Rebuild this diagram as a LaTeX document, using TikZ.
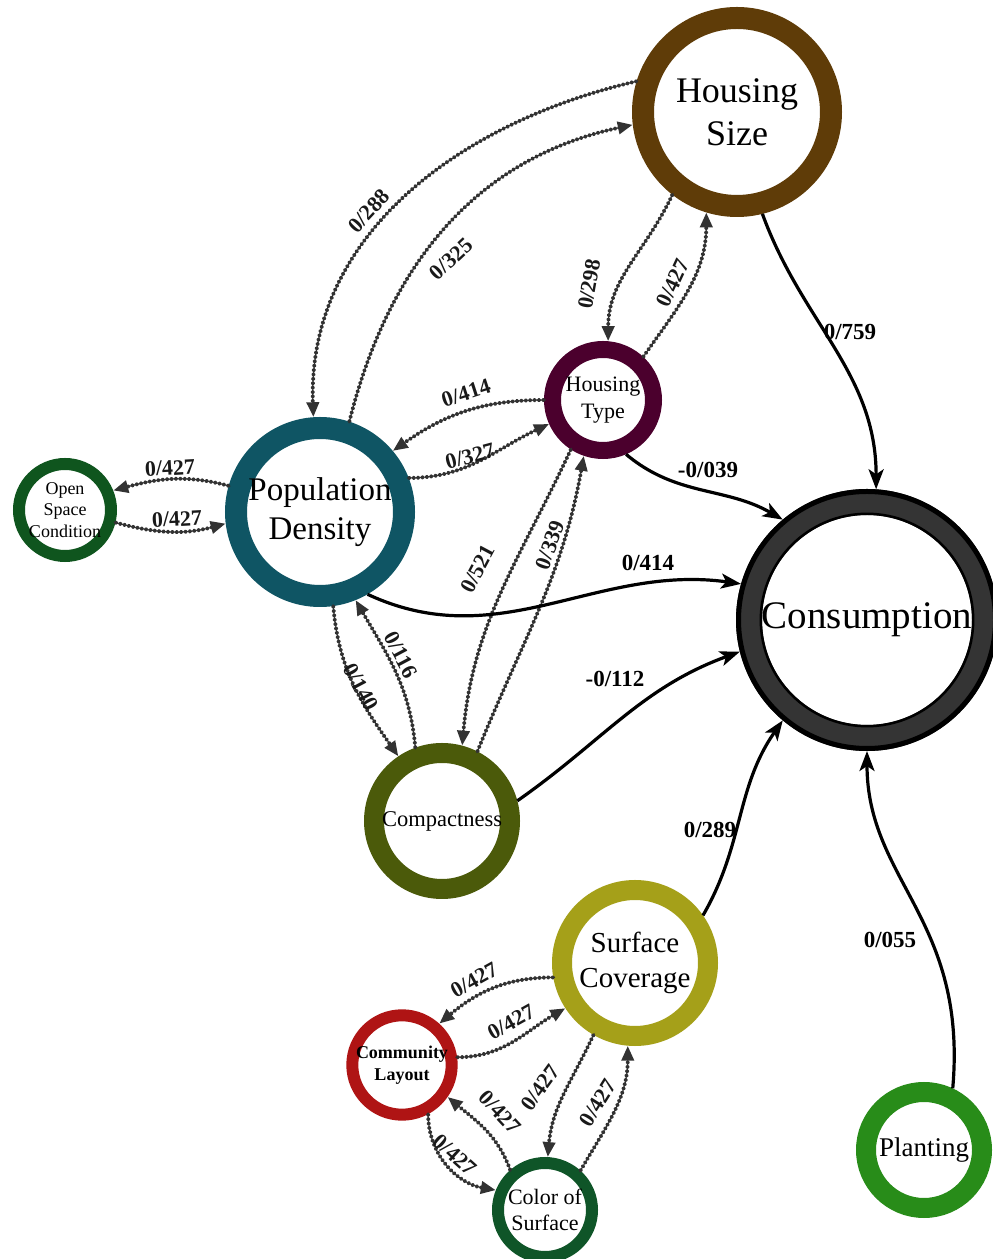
\documentclass[tikz,border=0pt]{standalone}
\usepackage{fontspec}
\setmainfont{Liberation Serif}
\usetikzlibrary{arrows.meta}
\definecolor{cHS}{RGB}{95,60,8}
\definecolor{cHT}{RGB}{75,0,45}
\definecolor{cPD}{RGB}{15,85,100}
\definecolor{cOS}{RGB}{15,85,30}
\definecolor{cCons}{RGB}{52,52,52}
\definecolor{cComp}{RGB}{75,90,10}
\definecolor{cSC}{RGB}{165,160,25}
\definecolor{cCL}{RGB}{175,20,20}
\definecolor{cCS}{RGB}{15,85,40}
\definecolor{cPL}{RGB}{40,140,25}
\definecolor{edgegrey}{RGB}{50,50,50}
\newcommand{\fs}[1]{\fontsize{#1}{1.2\dimexpr #1pt\relax}\selectfont}
\begin{document}
\begin{tikzpicture}[x=1pt,y=1pt,
  ring/.style={circle, draw, fill=white, inner sep=0pt, align=center, text=black},
  dotarrow/.style={draw=edgegrey, line width=3.8pt, line cap=round, dash pattern=on 1.2pt off 3.2pt, -{Triangle[length=15pt,width=12pt]}},
  solidarrow/.style={draw=black, line width=3.2pt, -{Stealth[length=20pt,width=15pt,inset=5pt]}},
  dlbl/.style={font=\fs{22}\bfseries, text=black!90, inner sep=1pt},
  slbl/.style={font=\fs{23}\bfseries, inner sep=1pt},
]
\useasboundingbox (0,0) rectangle (993,1259);
\fill[white] (0,0) rectangle (993,1259);

% nodes
\node[ring, draw=cHS, line width=22pt, minimum size=188pt, font=\fs{36}] (hs) at (737,1147) {Housing\\Size};
\node[ring, draw=cHT, line width=17pt, minimum size=101pt, font=\fs{22}] (ht) at (603,859) {Housing\\Type};
\node[ring, draw=cPD, line width=22pt, minimum size=168pt, font=\fs{33}] (pd) at (320,747) {Population\\Density};
\node[ring, draw=cOS, line width=12pt, minimum size=92pt, font=\fs{18}] (os) at (65,749) {Open\\Space\\Condition};
\node[ring, draw=cCons, line width=26pt, minimum size=236pt, font=\fs{39}] (cons) at (867,639) {Consumption};
\draw[black, line width=5pt] (cons.center) circle (128.5);
\draw[black, line width=2.5pt] (cons.center) circle (106.2);
\node[ring, draw=cComp, line width=20pt, minimum size=136pt, font=\fs{22.5}] (comp) at (442,438) {Compactness};
\node[ring, draw=cSC, line width=20pt, minimum size=146pt, font=\fs{29}] (sc) at (635,296) {Surface\\Coverage};
\node[ring, draw=cCL, line width=12pt, minimum size=92pt, font=\fs{18}\bfseries] (cl) at (402,194) {Community\\Layout};
\node[ring, draw=cCS, line width=12pt, minimum size=94pt, font=\fs{22}] (cs) at (545,49) {Color of\\Surface};
\node[ring, draw=cPL, line width=20pt, minimum size=116pt, font=\fs{27}] (pl) at (924,109) {Planting};

% dotted connectors
\draw[dotarrow] (hs.163) to[out=193,in=92] (pd.94);
\draw[dotarrow] (pd.72) to[out=76,in=192] (hs.187);
\draw[dotarrow] (hs.232) to[out=245,in=90] (ht.85);
\draw[dotarrow] (ht.47) to[out=55,in=270] (hs.253);
\draw[dotarrow] (ht.180) to[out=180,in=35] (pd.40);
\draw[dotarrow] (pd.21) to[out=0,in=205] (ht.204);
\draw[dotarrow] (pd.164) to[out=165,in=15] (os.22);
\draw[dotarrow] (os.346) to[out=-15,in=195] (pd.187);
\draw[dotarrow] (pd.278) to[out=275,in=125] (comp.124);
\draw[dotarrow] (comp.110) to[out=95,in=300] (pd.292);
\draw[dotarrow] (ht.237) to[out=245,in=85] (comp.75);
\draw[dotarrow] (comp.63) to[out=68,in=260] (ht.251);
\draw[dotarrow] (sc.190) to[out=180,in=40] (cl.48);
\draw[dotarrow] (cl.8) to[out=0,in=210] (sc.213);
\draw[dotarrow] (sc.240) to[out=245,in=85] (cs.87);
\draw[dotarrow] (cs.48) to[out=60,in=270] (sc.265);
\draw[dotarrow] (cs.131) to[out=110,in=320] (cl.325);
\draw[dotarrow] (cl.298) to[out=270,in=170] (cs.158);

% solid connectors
\draw[solidarrow] (hs.284) to[out=290,in=90] (cons.86);
\draw[solidarrow] (ht.293) to[out=320,in=150] (cons.130);
\draw[solidarrow] (pd.300) to[out=-25,in=172] (cons.164);
\draw[solidarrow] (comp.15) to[out=35,in=200] (cons.194);
\draw[solidarrow] (sc.35) to[out=60,in=235] (cons.230);
\draw[solidarrow] (pl.65) to[out=85,in=270,out distance=170pt,in distance=130pt] (cons.270);

% dotted labels
\node[dlbl, rotate=47] (l288) at (369,1048) {0/288};
\node[dlbl, rotate=43] (l325) at (451,1000) {0/325};
\node[dlbl, rotate=80] (l298) at (589,975) {0/298};
\node[dlbl, rotate=65] (l427a) at (673,976) {0/427};
\node[dlbl, rotate=18] (l414a) at (466,866) {0/414};
\node[dlbl, rotate=15] (l327) at (470,803) {0/327};
\node[dlbl, rotate=3] (los1) at (170,791) {0/427};
\node[dlbl, rotate=3] (los2) at (177,740) {0/427};
\node[dlbl, rotate=-62] (l140) at (361,572) {0/140};
\node[dlbl, rotate=-62] (l116) at (401,604) {0/116};
\node[dlbl, rotate=62] (l521) at (478,690) {0/521};
\node[dlbl, rotate=70] (l339) at (550,714) {0/339};
\node[dlbl, rotate=29] (lsc1) at (474,279) {0/427};
\node[dlbl, rotate=29] (lsc2) at (511,237) {0/427};
\node[dlbl, rotate=54] (lsc3) at (540,171) {0/427};
\node[dlbl, rotate=58] (lsc4) at (598,156) {0/427};
\node[dlbl, rotate=-47] (lsc5) at (500,147) {0/427};
\node[dlbl, rotate=-42] (lsc6) at (455,104) {0/427};

% solid labels
\node[slbl] (l759) at (850,927) {0/759};
\node[slbl] (l039) at (708,789) {-0/039};
\node[slbl] (l414b) at (648,696) {0/414};
\node[slbl] (l112) at (615,580) {-0/112};
\node[slbl] (l289) at (710,429) {0/289};
\node[slbl] (l055) at (890,319) {0/055};
\end{tikzpicture}
\end{document}
